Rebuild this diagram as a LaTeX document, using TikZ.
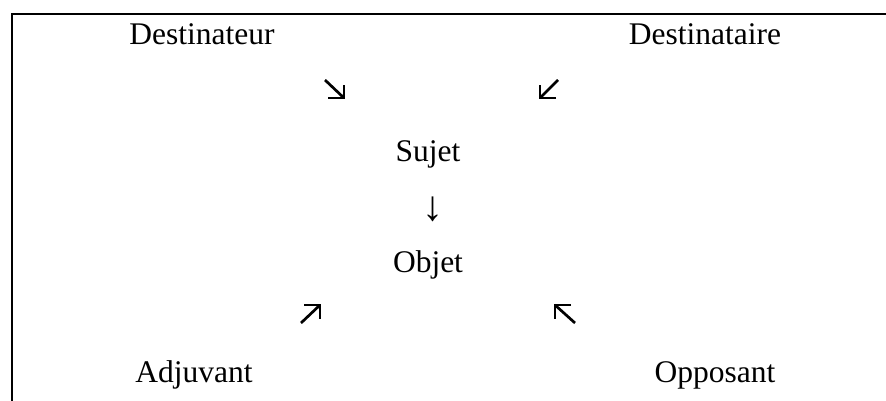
\documentclass[tikz,border=0pt]{standalone}
\usepackage{fontspec}
\setmainfont{Liberation Serif}
\begin{document}
\begin{tikzpicture}[x=1pt,y=-1pt,
  lbl/.style={anchor=base,inner sep=0pt,font=\fontsize{31.5}{36}\selectfont},
  vert/.style={inner sep=0pt,font=\fontsize{42}{46}\selectfont},
  diagarrow/.style={line width=2.7pt,line join=miter,line cap=butt},
  frame/.style={line width=2pt}]
\useasboundingbox (0,0) rectangle (886,401);
\draw[frame] (11.5,401) -- (11.5,14) -- (886,14);
\node[lbl] (destinateur) at (202,45) {Destinateur};
\node[lbl] (destinataire) at (705,45) {Destinataire};
\node[lbl] (sujet) at (428,161) {Sujet};
\node[vert] (down) at (433,209) {↓};
\node[lbl] (objet) at (428,272) {Objet};
\node[lbl] (adjuvant) at (194,382) {Adjuvant};
\node[lbl] (opposant) at (715,382) {Opposant};
% diagonal arrow glyphs
\coordinate (a1tail) at (325,80);  \coordinate (a1tip) at (344,98);
\coordinate (a2tail) at (558,80);  \coordinate (a2tip) at (540,98);
\coordinate (a3tail) at (301,323); \coordinate (a3tip) at (320,305);
\coordinate (a4tail) at (575,323); \coordinate (a4tip) at (555,305);
\draw[diagarrow] (a1tail) -- (a1tip);
\draw[diagarrow] ([xshift=-16pt]a1tip) -- (a1tip) -- ([yshift=13pt]a1tip);
\draw[diagarrow] (a2tail) -- (a2tip);
\draw[diagarrow] ([xshift=16pt]a2tip) -- (a2tip) -- ([yshift=13pt]a2tip);
\draw[diagarrow] (a3tail) -- (a3tip);
\draw[diagarrow] ([xshift=-16pt]a3tip) -- (a3tip) -- ([yshift=-14pt]a3tip);
\draw[diagarrow] (a4tail) -- (a4tip);
\draw[diagarrow] ([xshift=16pt]a4tip) -- (a4tip) -- ([yshift=-14pt]a4tip);
\end{tikzpicture}
\end{document}
